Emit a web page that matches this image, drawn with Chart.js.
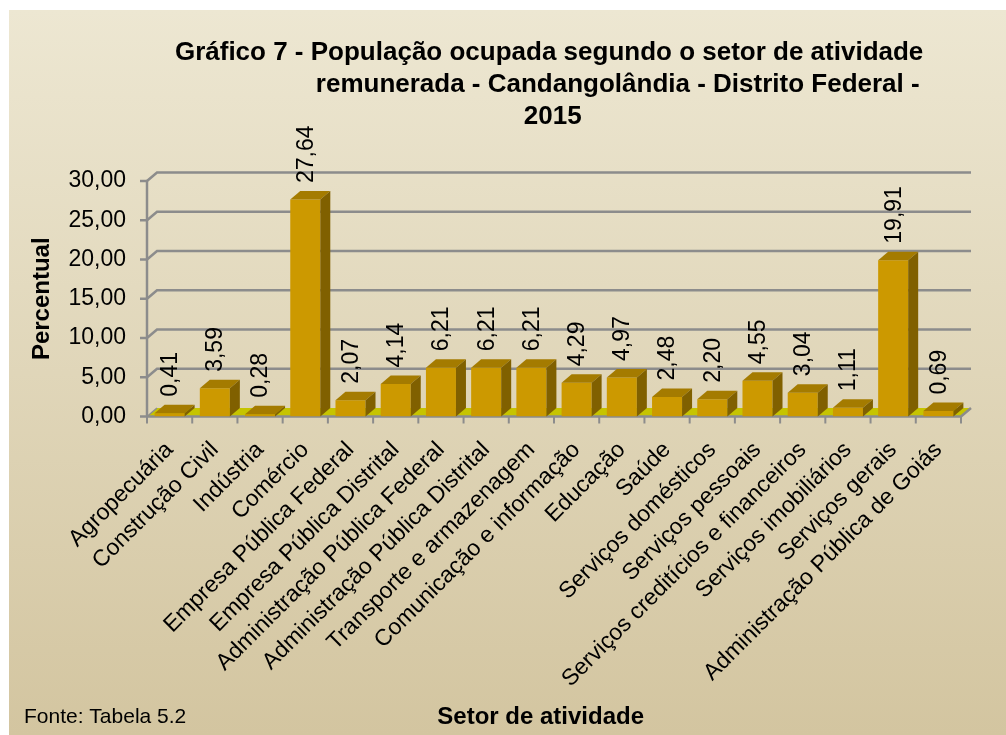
<!DOCTYPE html>
<html><head><meta charset="utf-8">
<script src="https://cdn.jsdelivr.net/npm/chart.js@4.4.0/dist/chart.umd.min.js"></script>
<style>html,body{margin:0;padding:0;background:#fff;overflow:hidden}canvas{display:block}</style>
</head><body>
<canvas id="c" width="1006" height="735"></canvas>
<script>
const categories = ["Agropecuária","Construção Civil","Indústria","Comércio","Empresa Pública Federal","Empresa Pública Distrital","Administração Pública Federal","Administração Pública Distrital","Transporte e armazenagem","Comunicação e informação","Educação","Saúde","Serviços domésticos","Serviços pessoais","Serviços creditícios e financeiros","Serviços imobiliários","Serviços gerais","Administração Pública de Goiás"];
const percentual = [0.41, 3.59, 0.28, 27.64, 2.07, 4.14, 6.21, 6.21, 6.21, 4.29, 4.97, 2.48, 2.20, 4.55, 3.04, 1.11, 19.91, 0.69];
const yTicks = [0, 5, 10, 15, 20, 25, 30];
const titleLines = ["Gráfico 7 - População ocupada segundo o setor de atividade", "remunerada - Candangolândia - Distrito Federal -", "2015"];
const yAxisTitle = "Percentual";
const xAxisTitle = "Setor de atividade";
const sourceNote = "Fonte: Tabela 5.2";

const NB = "\u00A0";
const fmt = v => v.toFixed(2).replace('.', ',');
const DX = 10, DY = 8.5;
const FONT = "'Liberation Sans', Arial, sans-serif";
Chart.defaults.font.family = FONT;
Chart.defaults.color = '#000';

const bgPlugin = {
  id: 'bg',
  beforeDraw(chart) {
    const ctx = chart.ctx;
    ctx.save();
    ctx.fillStyle = '#ffffff';
    ctx.fillRect(0, 0, chart.width, chart.height);
    const g = ctx.createLinearGradient(0, 10, 0, chart.height);
    g.addColorStop(0, '#ede7d2');
    g.addColorStop(1, '#d3c5a0');
    ctx.fillStyle = g;
    ctx.fillRect(9, 10, chart.width - 9, chart.height - 10);
    ctx.restore();
  }
};

const wallPlugin = {
  id: 'wall3d',
  beforeDatasetsDraw(chart) {
    const {ctx, chartArea: {left, right, top, bottom}, scales: {x, y}} = chart;
    ctx.save();
    // floor
    ctx.fillStyle = '#c6c400';
    ctx.beginPath();
    ctx.moveTo(left, bottom); ctx.lineTo(right, bottom);
    ctx.lineTo(right + DX, bottom - DY); ctx.lineTo(left + DX, bottom - DY);
    ctx.closePath(); ctx.fill();
    ctx.strokeStyle = '#8c8c8c';
    ctx.lineWidth = 2.5;
    ctx.lineCap = 'butt';
    yTicks.forEach(v => {
      const py = y.getPixelForValue(v);
      if (v > 0) {
        ctx.beginPath();
        ctx.moveTo(left, py); ctx.lineTo(left + DX, py - DY); ctx.lineTo(right + DX, py - DY);
        ctx.stroke();
      }
      ctx.beginPath(); ctx.moveTo(left - 7, py); ctx.lineTo(left, py); ctx.stroke();
    });
    // left vertical axis
    ctx.beginPath(); ctx.moveTo(left, bottom); ctx.lineTo(left, y.getPixelForValue(yTicks[yTicks.length - 1])); ctx.stroke();
    // floor front edge + right edge
    ctx.beginPath(); ctx.moveTo(left, bottom); ctx.lineTo(right, bottom); ctx.lineTo(right + DX, bottom - DY); ctx.stroke();
    ctx.lineWidth = 1.5;
    ctx.beginPath(); ctx.moveTo(left, bottom); ctx.lineTo(left + DX, bottom - DY); ctx.stroke();
    // x tick marks at category boundaries
    ctx.lineWidth = 2;
    const n = categories.length;
    for (let i = 0; i <= n; i++) {
      const px = left + (right - left) * i / n;
      ctx.beginPath(); ctx.moveTo(px, bottom); ctx.lineTo(px, bottom + 7); ctx.stroke();
    }
    ctx.restore();
  },
  afterDatasetsDraw(chart) {
    const ctx = chart.ctx;
    const meta = chart.getDatasetMeta(0);
    ctx.save();
    meta.data.forEach((el, i) => {
      const {x, y, base, width} = el.getProps(['x', 'y', 'base', 'width'], true);
      const l = x - width / 2, r = x + width / 2;
      // top face
      ctx.fillStyle = '#a47b00';
      ctx.beginPath();
      ctx.moveTo(l, y); ctx.lineTo(r, y); ctx.lineTo(r + DX, y - DY); ctx.lineTo(l + DX, y - DY);
      ctx.closePath(); ctx.fill();
      // side face
      ctx.fillStyle = '#806000';
      ctx.beginPath();
      ctx.moveTo(r, y); ctx.lineTo(r + DX, y - DY); ctx.lineTo(r + DX, base - DY); ctx.lineTo(r, base);
      ctx.closePath(); ctx.fill();
      // value label
      ctx.save();
      ctx.translate(x + 1, y - DY - 8);
      ctx.rotate(-Math.PI / 2);
      ctx.font = "23px " + FONT;
      ctx.fillStyle = '#000';
      ctx.textAlign = 'left';
      ctx.textBaseline = 'middle';
      ctx.fillText(fmt(percentual[i]), 0, 0);
      ctx.restore();
    });
    ctx.restore();
  },
  afterDraw(chart) {
    const ctx = chart.ctx;
    ctx.save();
    ctx.font = "21px " + FONT;
    ctx.fillStyle = '#000';
    ctx.textAlign = 'left';
    ctx.textBaseline = 'middle';
    ctx.fillText(sourceNote, 24, 717);
    ctx.restore();
  }
};

new Chart(document.getElementById('c'), {
  type: 'bar',
  data: {
    labels: categories,
    datasets: [{
      data: percentual,
      backgroundColor: '#cc9900',
      borderWidth: 0,
      barPercentage: 0.664,
      categoryPercentage: 1
    }]
  },
  options: {
    responsive: false,
    animation: false,
    layout: { padding: { left: 0, right: 45, top: 0, bottom: 0 } },
    plugins: {
      legend: { display: false },
      tooltip: { enabled: false },
      title: {
        display: true,
        text: [NB.repeat(19) + titleLines[0], NB.repeat(38) + titleLines[1], NB.repeat(20) + titleLines[2]],
        font: { size: 26, weight: 'bold', lineHeight: 32 / 26 },
        color: '#000',
        padding: { top: 37, bottom: 48 }
      }
    },
    scales: {
      x: {
        grid: { display: false, drawTicks: false },
        border: { display: false },
        ticks: { autoSkip: false, minRotation: 45, maxRotation: 45, padding: 20, labelOffset: 0, font: { size: 23 }, color: '#000' },
        title: { display: true, text: xAxisTitle + NB.repeat(4), font: { size: 24, weight: 'bold' }, color: '#000', padding: { top: 0, bottom: 3.6 } },
        afterFit(s) { s.height = 735 - 416.5; }
      },
      y: {
        min: 0, max: 30,
        grid: { display: false, drawTicks: false },
        border: { display: false },
        afterBuildTicks(s) { s.ticks = yTicks.map(v => ({ value: v })); },
        ticks: { padding: 21, font: { size: 23 }, color: '#000', callback: v => fmt(v) },
        title: { display: true, text: yAxisTitle, font: { size: 24, weight: 'bold' }, color: '#000', padding: { top: 27.6, bottom: 0 } },
        afterFit(s) { s.width = 147; }
      }
    }
  },
  plugins: [bgPlugin, wallPlugin]
});
</script>
</body></html>
